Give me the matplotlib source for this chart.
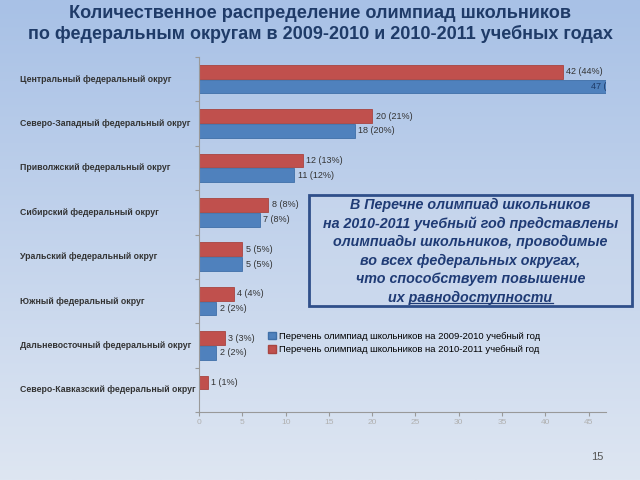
import numpy as np
import matplotlib
matplotlib.use("Agg")
import matplotlib.pyplot as plt
from matplotlib.patches import Rectangle, Patch
from matplotlib.lines import Line2D

plt.rcParams['font.family'] = ['Liberation Sans', 'DejaVu Sans']

categories = [
    "Центральный федеральный округ",
    "Северо-Западный федеральный округ",
    "Приволжский федеральный округ",
    "Сибирский федеральный округ",
    "Уральский федеральный округ",
    "Южный федеральный округ",
    "Дальневосточный федеральный округ",
    "Северо-Кавказский федеральный округ",
]
vals_2009 = [47, 18, 11, 7, 5, 2, 2, 0]
pct_2009 = [51, 20, 12, 8, 5, 2, 2, 0]
vals_2010 = [42, 20, 12, 8, 5, 4, 3, 1]
pct_2010 = [44, 21, 13, 8, 5, 4, 3, 1]
xticks = [0, 5, 10, 15, 20, 25, 30, 35, 40, 45]
legend_labels = ["Перечень олимпиад школьников на 2009-2010 учебный год",
                 "Перечень олимпиад школьников на 2010-2011 учебный год"]

W, H = 640, 480
fig = plt.figure(figsize=(6.4, 4.8), dpi=100)

# background gradient
bg = fig.add_axes([0, 0, 1, 1], zorder=-10)
top = np.array([168, 193, 230]) / 255
bot = np.array([222, 230, 242]) / 255
t = np.linspace(0, 1, 256)[:, None]
grad = top[None, :] * (1 - t) + bot[None, :] * t
bg.imshow(grad[:, None, :], aspect='auto', extent=[0, 1, 0, 1])
bg.axis('off')

def fx(px):
    return px / W

def fy(py):
    return 1 - py / H

# title
fig.text(0.5, fy(14), "Количественное распределение олимпиад школьников",
         ha='center', va='center', fontsize=13.1, fontweight='bold', color='#1F3B68')
fig.text(0.5, fy(33.5), "по федеральным округам в 2009-2010 и 2010-2011 учебных годах",
         ha='center', va='center', fontsize=13, fontweight='bold', color='#1F3B68')

ax = fig.add_axes([fx(199), fy(412), fx(606) - fx(199), fy(57) - fy(412)])
ax.set_facecolor('none')
y = np.arange(len(categories))
h = 0.31
red = '#C0504D'
blue = '#4F81BD'
ax.barh(y - 0.165, vals_2010, height=h, color=red, edgecolor='#A84440', linewidth=0.6)
ax.barh(y + 0.165, vals_2009, height=h, color=blue, edgecolor='#3F6FA8', linewidth=0.6)
ax.set_xlim(0, 47)
ax.set_ylim(len(categories) - 0.5, -0.5)

for i in range(len(categories)):
    v = vals_2010[i]
    ax.text(v + 0.4, y[i] - 0.165, f"{v} ({pct_2010[i]}%)", va='center', ha='left',
            fontsize=6.5, color='#333333')
    v = vals_2009[i]
    if v > 0:
        if v >= 45:
            ax.text(45.3, y[i] + 0.165, f"{v} ({pct_2009[i]}%)", va='center', ha='left',
                    fontsize=6.5, color='#1F3B68', clip_on=True)
        else:
            ax.text(v + 0.4, y[i] + 0.165, f"{v} ({pct_2009[i]}%)", va='center', ha='left',
                    fontsize=6.5, color='#333333')

ax.set_yticks(np.arange(-0.5, len(categories) + 0.5, 1.0))
ax.set_yticklabels([])
ax.tick_params(axis='y', length=3, color='#999999')
ax.set_xticks(xticks)
ax.set_xticklabels([str(v) for v in xticks], fontsize=6, color='#B0B0B0')
ax.tick_params(axis='x', length=3, color='#999999', pad=2)
for s in ['top', 'right']:
    ax.spines[s].set_visible(False)
for s in ['left', 'bottom']:
    ax.spines[s].set_color('#999999')
    ax.spines[s].set_linewidth(0.8)

# category labels
for i, c in enumerate(categories):
    yy = ax.transData.transform((0, y[i]))[1] / (H)
    fig.text(fx(20), yy, c, ha='left', va='center', fontsize=6.3,
             fontweight='bold', color='#333333')

# legend
handles = [Patch(facecolor=blue, edgecolor='#3F6FA8'), Patch(facecolor=red, edgecolor='#A84440')]
fig.legend(handles, legend_labels, loc='upper left', bbox_to_anchor=(fx(268), fy(332)),
           frameon=False, fontsize=6.8, handlelength=0.8, handleheight=0.8,
           handletextpad=0.35, labelspacing=0.45, borderaxespad=0, borderpad=0)

# text box
rect = Rectangle((fx(309), fy(306)), fx(632) - fx(309), fy(195) - fy(306),
                 transform=fig.transFigure, facecolor=(0.80, 0.85, 0.93, 0.5),
                 edgecolor='#2F4F8A', linewidth=2, zorder=5)
fig.add_artist(rect)
box_lines = ["В Перечне олимпиад школьников",
             "на 2010-2011 учебный год представлены",
             "олимпиады школьников, проводимые",
             "во всех федеральных округах,",
             "что способствует повышение",
             "их равнодоступности"]
tkw = dict(fontsize=10.3, fontweight='bold', style='italic', color='#1F3B75')
for k, line in enumerate(box_lines):
    tt = fig.text(fx(470.5), fy(205 + k * 18.5), line, ha='center', va='center',
                  zorder=6, **tkw)
fig.canvas.draw()
bb = tt.get_window_extent()
tmp = fig.text(0, 0, "их ", **tkw)
wpre = tmp.get_window_extent().width
tmp.remove()
fig.add_artist(Line2D([(bb.x0 + wpre) / W, bb.x1 / W], [fy(303), fy(303)],
                      transform=fig.transFigure, color='#1F3B75', linewidth=0.9, zorder=6))

fig.text(fx(597), fy(457), "15", ha='center', va='center', fontsize=8, color='#555555')

fig.savefig("out.png", dpi=100)
